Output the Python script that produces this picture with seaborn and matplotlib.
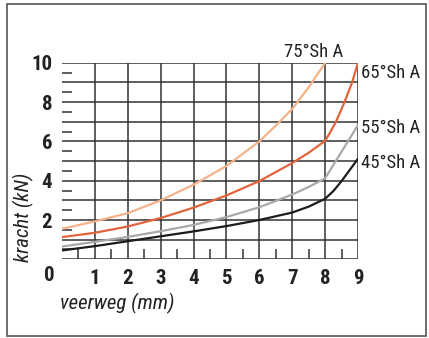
import matplotlib
matplotlib.use("Agg")
import matplotlib.pyplot as plt
from matplotlib.patches import Rectangle
import seaborn as sns
import pandas as pd

sns.set_theme(style="white")
plt.rcParams['font.family'] = ['Roboto Condensed', 'DejaVu Sans']

# curves: veerweg (mm) -> kracht (kN)
x_75 = [0, 1, 2, 3, 4, 5, 6, 6.5, 7, 7.5, 8]
y_75 = [1.55, 1.93, 2.35, 3.0, 3.8, 4.75, 6.0, 6.8, 7.65, 8.75, 10.0]

x_65 = [0, 1, 2, 3, 4, 5, 6, 7, 7.5, 8, 8.15, 8.33, 8.59, 8.82, 9]
y_65 = [1.13, 1.35, 1.67, 2.1, 2.63, 3.25, 3.98, 4.9, 5.42, 6.03, 6.45, 7.0, 8.0, 9.0, 10.0]

x_55 = [0, 1, 2, 3, 4, 5, 6, 6.5, 7, 7.5, 8, 9]
y_55 = [0.65, 0.89, 1.14, 1.43, 1.75, 2.15, 2.65, 2.97, 3.3, 3.68, 4.12, 6.83]

x_45 = [0, 1, 2, 3, 4, 5, 6, 7, 7.5, 8, 8.25, 8.5, 8.75, 9]
y_45 = [0.45, 0.67, 0.92, 1.17, 1.42, 1.69, 2.0, 2.38, 2.68, 3.08, 3.47, 3.98, 4.55, 5.12]

labels = ["75°Sh A", "65°Sh A", "55°Sh A", "45°Sh A"]
colors = ["#f2b38b", "#e2643c", "#a9a9a9", "#1c1c1c"]

frames = []
for lab, xs, ys in zip(labels, [x_75, x_65, x_55, x_45], [y_75, y_65, y_55, y_45]):
    frames.append(pd.DataFrame({"veerweg": xs, "kracht": ys, "type": lab}))
df = pd.concat(frames, ignore_index=True)

fig = plt.figure(figsize=(4.29, 3.38), dpi=100)
ax = fig.add_axes([62 / 429, 1 - 259.3 / 338, (358 - 62) / 429, (259.3 - 62.8) / 338])

grid_c = "#333333"
for v in range(0, 11):
    ax.axhline(v, color=grid_c, lw=1.1, zorder=1)
for v in range(1, 10):
    ax.axvline(v, color=grid_c, lw=1.1, zorder=1)

sns.lineplot(data=df, x="veerweg", y="kracht", hue="type", palette=colors,
             hue_order=labels, ax=ax, lw=1.6, legend=False, sort=False, zorder=3)

ax.set_xlim(0, 9)
ax.set_ylim(0, 10)
for s in ax.spines.values():
    s.set_visible(False)

tick_kw = dict(fontsize=15, fontweight="bold", color="#222222")
ax.set_xticks(range(1, 10))
ax.set_xticklabels([str(i) for i in range(1, 10)], **tick_kw)
ax.set_yticks([2, 4, 6, 8, 10])
ax.set_yticklabels(["2", "4", "6", "8", "10"], **tick_kw)
ax.tick_params(axis="both", which="major", length=0)
ax.tick_params(axis="x", which="major", pad=7)
ax.tick_params(axis="y", which="major", pad=7)
ax.set_xticks([i + 0.5 for i in range(9)], minor=True)
ax.set_yticks([i + 0.5 for i in range(10)], minor=True)
ax.tick_params(axis="both", which="minor", direction="in", length=7, width=1.1,
               color=grid_c)
ax.tick_params(axis="x", which="minor", bottom=True)
ax.tick_params(axis="y", which="minor", left=True)

ax.text(-0.4, -0.36, "0", ha="center", va="top", clip_on=False, **tick_kw)

ax.set_xlabel("")
ax.set_ylabel("")
fig.text(60 / 429, 1 - 303 / 338, "veerweg (mm)", ha="left", va="center",
         fontsize=15, style="italic", color="#222222")
fig.text(23 / 429, 1 - 217 / 338, "kracht (kN)", ha="center", va="center",
         rotation=90, fontsize=15, style="italic", color="#222222")

lab_kw = dict(fontsize=13.5, color="#222222")
fig.text(313.5 / 429, 1 - 52 / 338, "75°Sh A", ha="center", va="center", **lab_kw)
fig.text(361 / 429, 1 - 72.5 / 338, "65°Sh A", ha="left", va="center", **lab_kw)
fig.text(361 / 429, 1 - 128 / 338, "55°Sh A", ha="left", va="center", **lab_kw)
fig.text(361 / 429, 1 - 163 / 338, "45°Sh A", ha="left", va="center", **lab_kw)

fig.patches.append(Rectangle((7 / 429, 1 - 335.5 / 338), (426 - 7) / 429, (335.5 - 4) / 338,
                             transform=fig.transFigure, fill=False, ec="#555555", lw=1.2))

fig.savefig("out.png", dpi=100)
